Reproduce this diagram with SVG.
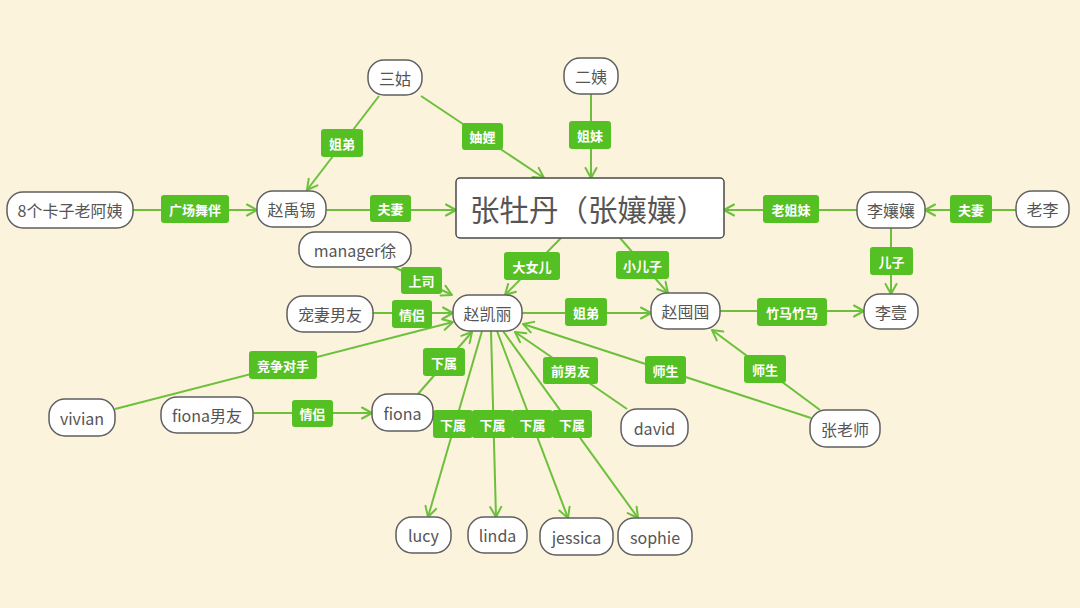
<svg xmlns="http://www.w3.org/2000/svg" width="1080" height="608" viewBox="0 0 1080 608">
<defs>
<marker id="arr" markerUnits="userSpaceOnUse" markerWidth="14" markerHeight="14" viewBox="0 0 14 14" refX="12" refY="7" orient="auto">
<path d="M2,1.5 L12,7 L2,12.5" fill="none" stroke="#6cc03c" stroke-width="2" stroke-linecap="round" stroke-linejoin="round"/>
</marker>
<style>
.bg{fill:#fbf3dc}
.n{fill:#ffffff;stroke:#5f5f5f;stroke-width:1.5}
.nt{font-family:"Noto Sans CJK SC","Noto Sans",sans-serif;font-size:16px;fill:#555555;text-anchor:middle;dominant-baseline:central}
.ct{font-family:"Noto Sans CJK SC","Noto Sans",sans-serif;font-size:29.5px;fill:#555555;text-anchor:middle;dominant-baseline:central}
.e{stroke:#6cc03c;stroke-width:2;fill:none;marker-end:url(#arr)}
.l{fill:#55c024}
.lt{font-family:"Noto Sans CJK SC","Noto Sans",sans-serif;font-size:13px;font-weight:bold;fill:#ffffff;text-anchor:middle;dominant-baseline:central}
</style>
</defs>
<rect class="bg" x="0" y="0" width="1080" height="608"/>
<g id="connectors">
<line class="e" x1="379" y1="96" x2="307" y2="190"/>
<line class="e" x1="421" y1="96" x2="544" y2="178"/>
<line class="e" x1="591" y1="94" x2="591" y2="178"/>
<line class="e" x1="133" y1="210" x2="257" y2="210"/>
<line class="e" x1="326" y1="210" x2="456" y2="210"/>
<line class="e" x1="857" y1="210" x2="724" y2="210"/>
<line class="e" x1="1016" y1="210" x2="925" y2="210"/>
<line class="e" x1="891" y1="228" x2="891" y2="294"/>
<line class="e" x1="720" y1="311" x2="864" y2="311"/>
<line class="e" x1="561" y1="238" x2="505" y2="295"/>
<line class="e" x1="620" y1="238" x2="668" y2="293"/>
<line class="e" x1="394" y1="267" x2="452" y2="295"/>
<line class="e" x1="373" y1="313" x2="453" y2="313"/>
<line class="e" x1="115" y1="409" x2="453" y2="322"/>
<line class="e" x1="253" y1="413" x2="372" y2="413"/>
<line class="e" x1="418" y1="394" x2="472" y2="332"/>
<line class="e" x1="522" y1="313" x2="651" y2="313"/>
<line class="e" x1="627" y1="409" x2="515" y2="332"/>
<line class="e" x1="811" y1="418" x2="523" y2="324"/>
<line class="e" x1="820" y1="410" x2="712" y2="330"/>
<line class="e" x1="482" y1="331" x2="428" y2="517"/>
<line class="e" x1="491" y1="331" x2="496" y2="517"/>
<line class="e" x1="497" y1="331" x2="568" y2="518"/>
<line class="e" x1="503" y1="331" x2="638" y2="518"/>
<g id="edge-labels">
<rect class="l" x="321" y="129" width="42" height="28" rx="3"/><text class="lt" x="342" y="143">姐弟</text>
<rect class="l" x="462" y="123" width="41" height="27" rx="3"/><text class="lt" x="482.5" y="136.5">妯娌</text>
<rect class="l" x="569" y="121" width="42" height="28" rx="3"/><text class="lt" x="590" y="135">姐妹</text>
<rect class="l" x="161" y="195" width="68" height="28" rx="3"/><text class="lt" x="195" y="209">广场舞伴</text>
<rect class="l" x="370" y="195" width="41" height="27" rx="3"/><text class="lt" x="390.5" y="208.5">夫妻</text>
<rect class="l" x="763" y="195" width="56" height="28" rx="3"/><text class="lt" x="791" y="209">老姐妹</text>
<rect class="l" x="950" y="195" width="42" height="28" rx="3"/><text class="lt" x="971" y="209">夫妻</text>
<rect class="l" x="870" y="247" width="43" height="28" rx="3"/><text class="lt" x="891.5" y="261">儿子</text>
<rect class="l" x="757" y="298" width="70" height="28" rx="3"/><text class="lt" x="792" y="312">竹马竹马</text>
<rect class="l" x="504" y="252" width="56" height="28" rx="3"/><text class="lt" x="532" y="266">大女儿</text>
<rect class="l" x="616" y="251" width="53" height="28" rx="3"/><text class="lt" x="642.5" y="265">小儿子</text>
<rect class="l" x="401" y="267" width="41" height="27" rx="3"/><text class="lt" x="421.5" y="280.5">上司</text>
<rect class="l" x="392" y="300" width="40" height="28" rx="3"/><text class="lt" x="412" y="314">情侣</text>
<rect class="l" x="565" y="298" width="42" height="28" rx="3"/><text class="lt" x="586" y="312">姐弟</text>
<rect class="l" x="423" y="348" width="42" height="28" rx="3"/><text class="lt" x="444" y="362">下属</text>
<rect class="l" x="543" y="357" width="55" height="27" rx="3"/><text class="lt" x="570.5" y="370.5">前男友</text>
<rect class="l" x="645" y="356" width="41" height="28" rx="3"/><text class="lt" x="665.5" y="370">师生</text>
<rect class="l" x="744" y="355" width="42" height="28" rx="3"/><text class="lt" x="765" y="369">师生</text>
<rect class="l" x="249" y="351" width="68" height="28" rx="3"/><text class="lt" x="283" y="365">竞争对手</text>
<rect class="l" x="292" y="400" width="41" height="27" rx="3"/><text class="lt" x="312.5" y="413.5">情侣</text>
<rect class="l" x="433" y="410" width="40" height="28" rx="3"/><text class="lt" x="453" y="424">下属</text>
<rect class="l" x="472" y="410" width="41" height="28" rx="3"/><text class="lt" x="492.5" y="424">下属</text>
<rect class="l" x="512" y="410" width="41" height="28" rx="3"/><text class="lt" x="532.5" y="424">下属</text>
<rect class="l" x="552" y="410" width="40" height="28" rx="3"/><text class="lt" x="572" y="424">下属</text>
</g>
</g>
<g id="n-center"><rect class="n" x="456" y="178" width="268" height="60" rx="4" stroke-width="2" style="stroke:#4a4a4a"/><text class="ct" x="588" y="208">张牡丹（张孃孃）</text></g>
<g id="n-sangu"><rect class="n" x="368" y="60" width="54" height="35" rx="16"/><text class="nt" x="395" y="77.5">三姑</text></g>
<g id="n-eryi"><rect class="n" x="564" y="58" width="54" height="36" rx="16"/><text class="nt" x="591" y="76">二姨</text></g>
<g id="n-ayi"><rect class="n" x="7" y="192" width="126" height="36" rx="16"/><text class="nt" x="70" y="210">8个卡子老阿姨</text></g>
<g id="n-zhaoyuxi"><rect class="n" x="257" y="191" width="69" height="36" rx="16"/><text class="nt" x="291.5" y="209">赵禹锡</text></g>
<g id="n-lirangrang"><rect class="n" x="857" y="192" width="68" height="36" rx="16"/><text class="nt" x="891" y="210">李孃孃</text></g>
<g id="n-laoli"><rect class="n" x="1016" y="191" width="53" height="36" rx="16"/><text class="nt" x="1042.5" y="209">老李</text></g>
<g id="n-liyi"><rect class="n" x="864" y="294" width="54" height="35" rx="16"/><text class="nt" x="891" y="311.5">李壹</text></g>
<g id="n-zhaotuntun"><rect class="n" x="651" y="293" width="69" height="36" rx="16"/><text class="nt" x="685.5" y="311">赵囤囤</text></g>
<g id="n-zhaokaili"><rect class="n" x="453" y="295" width="69" height="36" rx="16"/><text class="nt" x="487.5" y="313">赵凯丽</text></g>
<g id="n-manager"><rect class="n" x="299" y="232" width="112" height="35" rx="16"/><text class="nt" x="355" y="249.5">manager徐</text></g>
<g id="n-chongqi"><rect class="n" x="287" y="296" width="86" height="36" rx="16"/><text class="nt" x="330" y="314">宠妻男友</text></g>
<g id="n-vivian"><rect class="n" x="49" y="399" width="66" height="37" rx="16"/><text class="nt" x="82" y="417.5">vivian</text></g>
<g id="n-fionabf"><rect class="n" x="161" y="397" width="92" height="36" rx="16"/><text class="nt" x="207" y="415">fiona男友</text></g>
<g id="n-fiona"><rect class="n" x="372" y="394" width="61" height="37" rx="16"/><text class="nt" x="402.5" y="412.5">fiona</text></g>
<g id="n-david"><rect class="n" x="621" y="409" width="67" height="37" rx="16"/><text class="nt" x="654.5" y="427.5">david</text></g>
<g id="n-zhanglaoshi"><rect class="n" x="810" y="410" width="70" height="37" rx="16"/><text class="nt" x="845" y="428.5">张老师</text></g>
<g id="n-lucy"><rect class="n" x="396" y="517" width="55" height="36" rx="16"/><text class="nt" x="423.5" y="535">lucy</text></g>
<g id="n-linda"><rect class="n" x="468" y="517" width="59" height="36" rx="16"/><text class="nt" x="497.5" y="535">linda</text></g>
<g id="n-jessica"><rect class="n" x="540" y="518" width="73" height="37" rx="16"/><text class="nt" x="576.5" y="536.5">jessica</text></g>
<g id="n-sophie"><rect class="n" x="618" y="518" width="74" height="37" rx="16"/><text class="nt" x="655" y="536.5">sophie</text></g>
</svg>
